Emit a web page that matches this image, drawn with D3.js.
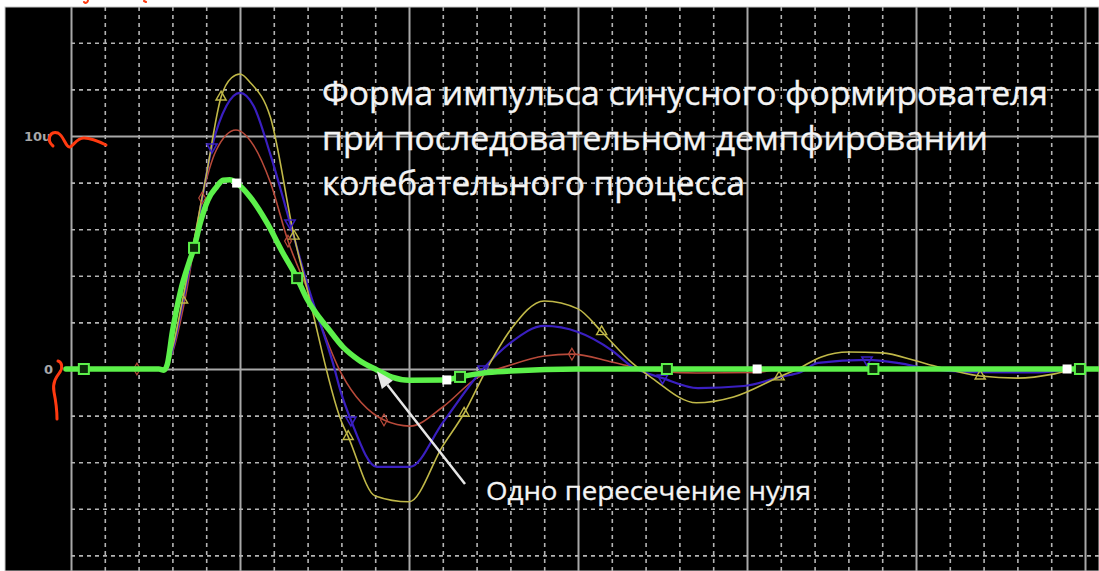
<!DOCTYPE html>
<html><head><meta charset="utf-8">
<script src="https://cdn.jsdelivr.net/npm/d3@7"></script>
<style>
html,body{margin:0;padding:0;background:#fff;}
svg{display:block;}
</style></head>
<body>
<svg id="chart" width="1099" height="571"></svg>
<script>
// ---- data (time in grid divisions, amplitude in u) ----
const greenT = [-0.15,0,1,2,2.6,2.75,2.85,3.0,3.25,3.5,3.64,3.82,4.05,4.3,4.5,4.7,4.9,5.3,5.8,6.27,6.69,7.0,7.25,7.6,8.05,8.5,9.05,9.5,10.0,11.1,11.5,12.2,13,15,30.5];
const greenV = [0,0,0,0,0,-0.05,0.2,1.6,3.4,4.6,5.2,6.25,7.25,7.8,8.1,8.12,7.98,7.38,6.27,4.98,3.9,2.96,2.4,1.75,0.94,0.4,-0.04,-0.35,-0.48,-0.47,-0.34,-0.17,-0.09,0,0];
const yellowT = [-0.15,2.7,3.0,3.3,4.0,4.44,4.75,5.0,5.3,5.9,6.6,7,8,8.2,9,10,11,11.63,12.3,13,14,15,15.7,16.6,17.2,18.5,19.6,20.95,21.5,22.2,23,24,25,25.5,26.9,28,29.1,29.6,30.5];
const yellowV = [0,0,0.9,2.96,8.3,11.67,12.5,12.66,12.3,10.8,5.7,3.36,-2.25,-2.9,-5.45,-5.7,-3.3,-1.9,0,1.67,2.92,2.58,1.6,0.26,-0.4,-1.45,-1.2,-0.34,0,0.52,0.73,0.69,0.35,0.15,-0.3,-0.39,-0.21,-0.05,0];
const blueT = [-0.15,2.7,3.0,3.3,3.7,4.17,4.6,5,5.4,5.9,6.48,7,7.75,8,8.28,9.05,10.03,11,12.19,13,14,15,16,16.6,17.5,18.55,19.9,21,21.6,22.1,23.55,24.5,25.4,26.6,28.5,29.6,30.5];
const blueV = [0,0,0.8,2.8,5.8,9.53,11.3,11.85,11.3,9.2,6.27,3.6,0.25,-1.07,-2.19,-4.2,-4.2,-2.3,0,1.12,1.85,1.59,0.8,0.1,-0.39,-0.82,-0.73,-0.34,-0.13,0.26,0.39,0.25,0,-0.13,-0.15,-0.05,0];
const redT = [-0.15,2.7,3.0,3.4,3.88,4.3,4.88,5.4,5.9,6.42,7,8,9.26,10.03,11,12,13,14,14.82,16,16.6,17.5,18.5,20.3,21,30.5];
const redV = [0,0,0.7,3.2,7.34,9.4,10.26,9.6,8.0,5.49,3.4,-0.2,-2.19,-2.45,-1.63,-0.39,0.17,0.56,0.64,0.3,0.1,-0.1,-0.17,-0.15,0,0];

const yellowMarkT = [3.3,4.44,6.6,8.2,11.63,15.7,20.95,26.9];
const yellowMarkV = [2.96,11.67,5.7,-2.9,-1.9,1.6,-0.34,-0.3];
const blueMarkT = [4.17,6.48,8.28,12.19,17.5,23.55];
const blueMarkV = [9.53,6.27,-2.19,0,-0.39,0.39];
const redMarkT = [1.95,3.88,6.42,9.26,14.82];
const redMarkV = [0,7.34,5.49,-2.19,0.64];
const greenMarkT = [0.38,3.64,6.69,11.51,17.63,23.74,29.85];
const greenMarkV = [0,5.2,3.9,-0.34,0,0,0];
const whiteMarkT = [4.9,11.12,20.3,29.47];
const whiteMarkV = [7.98,-0.47,0,0];

const xTicks = d3.range(0, 31, 1);
const yTicks = d3.range(-8, 16, 2);
const yLabelValues = [10, 0];
const yLabelTexts = ["10u", "0"];

const titleLines = ["Форма импульса синусного формирователя", "при последовательном демпфировании", "колебательного процесса"];
const noteText = "Одно пересечение нуля";
const noteTargetT = 9.05, noteTargetV = -0.1;

// ---- drawing ----
const svg = d3.select("#chart");
const W = 1099, H = 571;
const plotLeft = 5, plotTop = 7;

svg.append("rect").attr("width", W).attr("height", H).attr("fill", "#ffffff");
svg.append("rect").attr("x", plotLeft).attr("y", plotTop).attr("width", W - plotLeft).attr("height", H - plotTop).attr("fill", "#000").attr("stroke", "#c8c8c8").attr("stroke-width", 1);

const x = d3.scaleLinear().domain([0, 30]).range([71, 1085]);
const y = d3.scaleLinear().domain([0, 10]).range([369, 136]);

// grid via axes
const gx = svg.append("g").attr("transform", `translate(0,${H})`)
  .call(d3.axisTop(x).tickValues(xTicks).tickSize(H - plotTop).tickFormat(""));
gx.select(".domain").remove();
gx.selectAll(".tick line")
  .attr("stroke", d => d % 5 === 0 ? "#a8a8a8" : "#b4b4b4")
  .attr("stroke-width", d => d % 5 === 0 ? 2 : 1.6)
  .attr("stroke-dasharray", d => d % 5 === 0 ? null : "4,4");

const gy = svg.append("g").attr("transform", `translate(${W},0)`)
  .call(d3.axisLeft(y).tickValues(yTicks).tickSize(W - x(0)).tickFormat(""));
gy.select(".domain").remove();
gy.selectAll(".tick line")
  .attr("stroke", d => d % 10 === 0 ? "#a8a8a8" : "#b4b4b4")
  .attr("stroke-width", d => d % 10 === 0 ? 2 : 1.6)
  .attr("stroke-dasharray", d => d % 10 === 0 ? null : "4,4");

// y labels
svg.append("g").selectAll("text").data(yLabelValues).join("text")
  .attr("x", (d, i) => i === 0 ? 24 : 44)
  .attr("y", d => y(d) + 5)
  .attr("font-family", "DejaVu Sans, sans-serif")
  .attr("font-weight", "bold")
  .attr("font-size", 13)
  .attr("fill", "#a8a8a8")
  .text((d, i) => yLabelTexts[i]);

const clip = svg.append("defs").append("clipPath").attr("id", "pc")
  .append("rect").attr("x", plotLeft).attr("y", plotTop).attr("width", W - plotLeft).attr("height", H - plotTop);

const g = svg.append("g").attr("clip-path", "url(#pc)");

function series(T, V) { return T.map((t, i) => [t, V[i]]); }
const lineSmooth = d3.line().x(d => x(d[0])).y(d => y(d[1])).curve(d3.curveMonotoneX);

const cYellow = "#c0b848", cBlue = "#3a1fc0", cRed = "#b84a3a", cGreen = "#5cf04a";

g.append("path").datum(series(redT, redV)).attr("d", lineSmooth).attr("fill", "none").attr("stroke", cRed).attr("stroke-width", 1.6);
g.append("path").datum(series(blueT, blueV)).attr("d", lineSmooth).attr("fill", "none").attr("stroke", cBlue).attr("stroke-width", 2.2);
g.append("path").datum(series(yellowT, yellowV)).attr("d", lineSmooth).attr("fill", "none").attr("stroke", cYellow).attr("stroke-width", 1.6);

// thin-series markers
const triUp = d3.symbol().type(d3.symbolTriangle).size(45);
const diam = d3.symbol().type(d3.symbolDiamond).size(40);
g.append("g").selectAll("path").data(series(yellowMarkT, yellowMarkV)).join("path")
  .attr("d", triUp).attr("transform", d => `translate(${x(d[0])},${y(d[1])})`)
  .attr("fill", "none").attr("stroke", cYellow).attr("stroke-width", 1.4);
g.append("g").selectAll("path").data(series(blueMarkT, blueMarkV)).join("path")
  .attr("d", triUp).attr("transform", d => `translate(${x(d[0])},${y(d[1])}) rotate(180)`)
  .attr("fill", "none").attr("stroke", cBlue).attr("stroke-width", 1.6);
g.append("g").selectAll("path").data(series(redMarkT, redMarkV)).join("path")
  .attr("d", diam).attr("transform", d => `translate(${x(d[0])},${y(d[1])})`)
  .attr("fill", "none").attr("stroke", cRed).attr("stroke-width", 1.2);

// green thick curve
g.append("path").datum(series(greenT, greenV)).attr("d", lineSmooth).attr("fill", "none")
  .attr("stroke", cGreen).attr("stroke-width", 5.5).attr("stroke-linejoin", "round").attr("stroke-linecap", "round");

g.append("g").selectAll("rect").data(series(greenMarkT, greenMarkV)).join("rect")
  .attr("x", d => x(d[0]) - 5).attr("y", d => y(d[1]) - 5).attr("width", 10).attr("height", 10)
  .attr("fill", "#0b2a08").attr("stroke", cGreen).attr("stroke-width", 2);
g.append("g").selectAll("rect").data(series(whiteMarkT, whiteMarkV)).join("rect")
  .attr("x", d => x(d[0]) - 4.5).attr("y", d => y(d[1]) - 4.5).attr("width", 9).attr("height", 9)
  .attr("fill", "#ffffff");

// title
svg.append("g").selectAll("text").data(titleLines).join("text")
  .attr("x", 322)
  .attr("y", (d, i) => 105 + i * 45)
  .attr("font-family", "Open Sans, Noto Sans, sans-serif")
  .attr("font-size", 33)
  .attr("fill", "#f4f4f4")
  .attr("stroke", "#f4f4f4").attr("stroke-width", 0.4)
  .attr("textLength", (d, i) => [726, 666, 423][i])
  .attr("lengthAdjust", "spacingAndGlyphs")
  .text(d => d);

// annotation arrow
const tipX = x(noteTargetT), tipY = y(noteTargetV);
const tailX = 465, tailY = 484;
const ang = Math.atan2(tipY - tailY, tipX - tailX);
const ahL = 17, ahW = 7;
const bx = tipX - ahL * Math.cos(ang), by = tipY - ahL * Math.sin(ang);
svg.append("line").attr("x1", tailX).attr("y1", tailY).attr("x2", bx).attr("y2", by)
  .attr("stroke", "#e6e6e6").attr("stroke-width", 2.5);
svg.append("path")
  .attr("d", `M${tipX},${tipY} L${bx + ahW * Math.sin(ang)},${by - ahW * Math.cos(ang)} L${bx - ahW * Math.sin(ang)},${by + ahW * Math.cos(ang)} Z`)
  .attr("fill", "#e6e6e6");
svg.append("text").attr("x", 486).attr("y", 500)
  .attr("font-family", "Open Sans, Noto Sans, sans-serif").attr("font-size", 25)
  .attr("fill", "#f4f4f4").attr("stroke", "#f4f4f4").attr("stroke-width", 0.3)
  .attr("textLength", 325).attr("lengthAdjust", "spacingAndGlyphs")
  .text(noteText);

// hand-drawn red pen marks
const pen = svg.append("g").attr("fill", "none").attr("stroke", "#ff3a10").attr("stroke-width", 3).attr("stroke-linecap", "round").attr("stroke-linejoin", "round");
pen.append("path").attr("d", "M53,146 C46,140 50,130 58,133 C64,136 66,148 70,147 C74,146 76,138 84,138 C92,138 100,142 106,145");
pen.append("path").attr("d", "M58,361 C62,362 63,368 60,372 C57,376 52,382 54,392 C56,402 57,410 57,419");
pen.append("path").attr("d", "M84,2 C86,4 88,2 88,0").attr("stroke-width", 2);
pen.append("path").attr("d", "M144,1 L146,2").attr("stroke-width", 2);
</script>
</body></html>
